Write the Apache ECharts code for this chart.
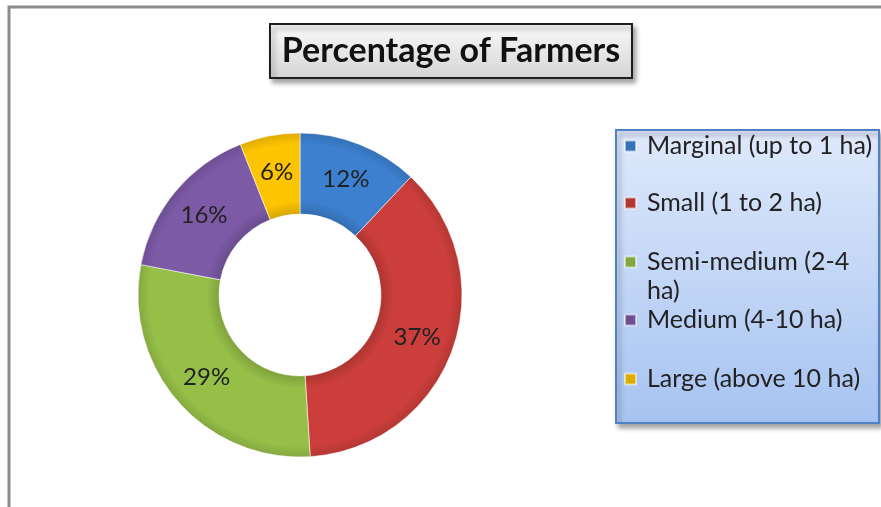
<!DOCTYPE html>
<html>
<head>
<meta charset="utf-8">
<script src="https://cdn.jsdelivr.net/npm/echarts@6/dist/echarts.min.js"></script>
<style>
    html, body { margin: 0; padding: 0; background: #fff; }
    #chart { width: 881px; height: 507px; }
</style>
</head>
<body>
<div id="chart"></div>
<script>
// Percentage of Farmers - land holding size groups
const categories = [
    'Marginal (up to 1 ha)',
    'Small (1 to 2 ha)',
    'Semi-medium (2-4 ha)',
    'Medium (4-10 ha)',
    'Large (above 10 ha)'
];
const percentValues = [12, 37, 29, 16, 6];
const sliceColors = ['#3c80cf', '#cc3e3b', '#96bf48', '#7c5aa6', '#fdc402'];
// legend rows (icon centre y), the semi-medium label wraps onto a second line
const legendRows = [146, 203, 262, 320, 379];

const FONT = 'Lato, "Open Sans", sans-serif';
const cx = 300, cy = 295, rIn = 81, rOut = 162;

const shade = function (hex, k) {
    const n = parseInt(hex.slice(1), 16);
    const f = c => Math.max(0, Math.min(255, Math.round(c * k)));
    return 'rgb(' + f(n >> 16) + ',' + f((n >> 8) & 255) + ',' + f(n & 255) + ')';
};

const mychart = echarts.init(document.getElementById('chart'), null, { renderer: 'canvas' });

const pieData = categories.map((name, i) => ({
    name: name,
    value: percentValues[i],
    itemStyle: {
        color: {
            type: 'radial', x: cx, y: cy, r: rOut, global: true,
            colorStops: [
                { offset: rIn / rOut, color: shade(sliceColors[i], 0.85) },
                { offset: 0.58, color: sliceColors[i] },
                { offset: 0.93, color: sliceColors[i] },
                { offset: 1, color: shade(sliceColors[i], 0.88) }
            ]
        }
    }
}));

const lh = 29;
const legends = categories.map((name, i) => {
    const twoLines = name.indexOf('Semi') === 0;
    return {
        data: [name],
        orient: 'vertical',
        left: 624,
        // text is centred on the icon, so the wrapped label gets an empty first line
        top: twoLines ? legendRows[i] - lh * 1.5 : legendRows[i] - lh / 2,
        padding: 0,
        icon: 'rect',
        itemWidth: 11,
        itemHeight: 11,
        selectedMode: false,
        formatter: n => twoLines ? '\n' + n.replace(' ha)', '\nha)') : n,
        textStyle: {
            fontFamily: FONT,
            fontSize: 25,
            color: '#222',
            lineHeight: lh,
            padding: [0, 0, 0, 6]
        }
    };
});

const option = {
    backgroundColor: '#fff',
    animation: false,
    color: sliceColors,
    graphic: [
        // outer frame (left and top edges visible)
        { type: 'polyline', shape: { points: [[9, 507], [9, 7], [881, 7]] },
          style: { stroke: '#8c8c8c', lineWidth: 3, fill: null }, z: 1 },
        // title box
        { type: 'rect', shape: { x: 270, y: 24, width: 362, height: 54 },
          style: {
              fill: new echarts.graphic.LinearGradient(0, 0, 0, 1, [
                  { offset: 0, color: '#fbfbfb' }, { offset: 1, color: '#d4d4d4' }
              ]),
              stroke: '#1e1e1e', lineWidth: 2,
              shadowBlur: 5, shadowOffsetX: 3, shadowOffsetY: 4, shadowColor: 'rgba(0,0,0,0.35)'
          }, z: 1 },
        // legend box
        { type: 'rect', shape: { x: 616, y: 130, width: 263, height: 293 },
          style: {
              fill: new echarts.graphic.LinearGradient(0, 0, 0, 1, [
                  { offset: 0, color: '#dfe9fb' }, { offset: 1, color: '#a6c3f1' }
              ]),
              stroke: '#4f81c4', lineWidth: 2,
              shadowBlur: 5, shadowOffsetX: 3, shadowOffsetY: 4, shadowColor: 'rgba(0,0,0,0.35)'
          }, z: 1 }
    ],
    title: {
        text: 'Percentage of Farmers',
        left: 451,
        top: 51,
        textAlign: 'center',
        textVerticalAlign: 'middle',
        padding: 0,
        textStyle: { fontFamily: FONT, fontSize: 34, fontWeight: 'bold', color: '#111' },
        z: 5
    },
    legend: legends,
    series: [
        {
            name: 'Percentage of Farmers',
            type: 'pie',
            center: [cx, cy],
            radius: [rIn, rOut],
            startAngle: 90,
            clockwise: true,
            avoidLabelOverlap: false,
            itemStyle: { borderColor: 'rgba(255,255,255,0.55)', borderWidth: 1 },
            label: {
                show: true,
                position: 'inside',
                formatter: '{d}%',
                fontFamily: FONT,
                fontSize: 24,
                color: '#222'
            },
            labelLine: { show: false },
            emphasis: { disabled: true },
            data: pieData
        }
    ]
};

mychart.setOption(option);
</script>
</body>
</html>
